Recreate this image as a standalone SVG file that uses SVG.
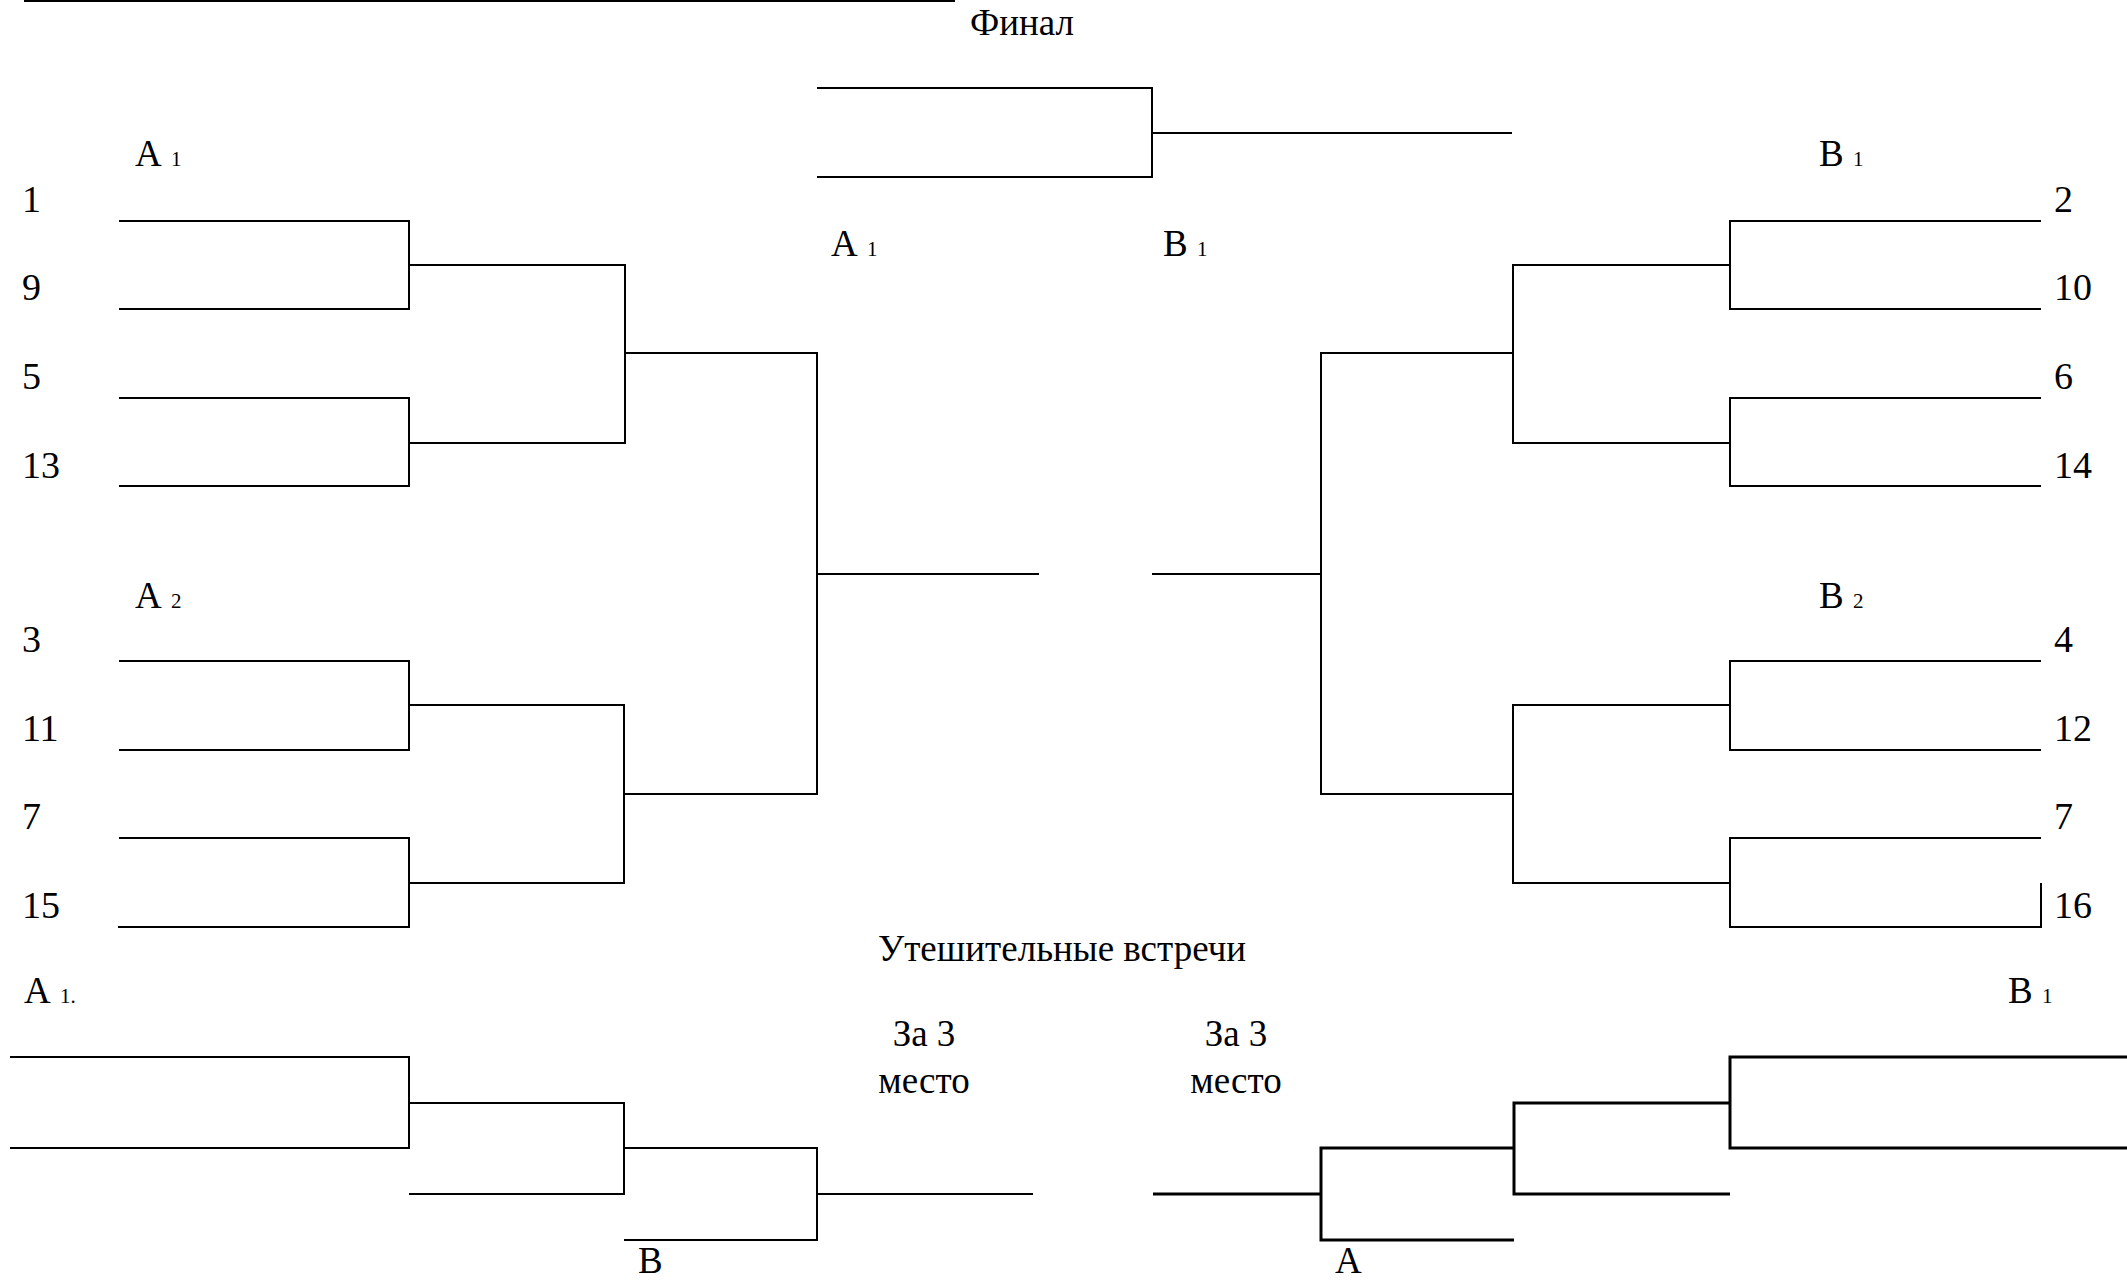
<svg xmlns="http://www.w3.org/2000/svg" width="2127" height="1280" viewBox="0 0 2127 1280">
<style>
  text { font-family: "Liberation Serif", "Times New Roman", serif; font-size: 37px; fill: #000; }
  .num { font-size: 38px; }
  .sub { font-size: 21px; }
  .mid { text-anchor: middle; }
  .ln { fill: none; stroke: #000; stroke-width: 2; }
  .lnb { fill: none; stroke: #000; stroke-width: 3; }
</style>
<rect x="0" y="0" width="2127" height="1280" fill="#fff"/>
<g id="connectors">
  <path class="ln" d="M24 1 H955"/>
  <path class="ln" d="M817 88 H1152 V177 H817"/>
  <path class="ln" d="M1152 133 H1512"/>
  <path class="ln" d="M119 221 H409 V309 H119"/>
  <path class="ln" d="M119 398 H409 V486 H119"/>
  <path class="ln" d="M409 265 H625 V443 H409"/>
  <path class="ln" d="M119 661 H409 V750 H119"/>
  <path class="ln" d="M119 838 H409 V927 H118"/>
  <path class="ln" d="M409 705 H624 V883 H409"/>
  <path class="ln" d="M625 353 H817 V794 H624"/>
  <path class="ln" d="M817 574 H1039"/>
  <path class="ln" d="M2041 221 H1730 V309 H2041"/>
  <path class="ln" d="M2041 398 H1730 V486 H2041"/>
  <path class="ln" d="M1730 265 H1513 V443 H1730"/>
  <path class="ln" d="M2041 661 H1730 V750 H2041"/>
  <path class="ln" d="M2041 838 H1730 V927 H2041 V883"/>
  <path class="ln" d="M1730 705 H1513 V883 H1730"/>
  <path class="ln" d="M1513 353 H1321 V794 H1513"/>
  <path class="ln" d="M1321 574 H1152"/>
  <path class="ln" d="M10 1057 H409 V1148 H10"/>
  <path class="ln" d="M409 1103 H624 V1194 H409"/>
  <path class="ln" d="M624 1148 H817 V1240 H624"/>
  <path class="ln" d="M817 1194 H1033"/>
  <path class="lnb" d="M1153 1194 H1321"/>
  <path class="lnb" d="M1514 1148 H1321 V1240 H1514"/>
  <path class="lnb" d="M1730 1103 H1514 V1194 H1730"/>
  <path class="lnb" d="M2127 1057 H1730 V1148 H2127"/>
</g>
<g id="title-final"><text x="970" y="35">Финал</text></g>
<g id="final-a1"><text x="831" y="256">А <tspan class="sub">1</tspan></text></g>
<g id="final-b1"><text x="1163" y="256">В <tspan class="sub">1</tspan></text></g>
<g id="group-a1"><text x="135" y="166">А <tspan class="sub">1</tspan></text></g>
<g id="group-a2"><text x="135" y="608">А <tspan class="sub">2</tspan></text></g>
<g id="group-b1"><text x="1819" y="166">В <tspan class="sub">1</tspan></text></g>
<g id="group-b2"><text x="1819" y="608">В <tspan class="sub">2</tspan></text></g>
<g id="seeds-left">
  <text class="num" x="22" y="212">1</text>
  <text class="num" x="22" y="300">9</text>
  <text class="num" x="22" y="389">5</text>
  <text class="num" x="22" y="478">13</text>
  <text class="num" x="22" y="652">3</text>
  <text class="num" x="22" y="741">11</text>
  <text class="num" x="22" y="829">7</text>
  <text class="num" x="22" y="918">15</text>
</g>
<g id="seeds-right">
  <text class="num" x="2054" y="212">2</text>
  <text class="num" x="2054" y="300">10</text>
  <text class="num" x="2054" y="389">6</text>
  <text class="num" x="2054" y="478">14</text>
  <text class="num" x="2054" y="652">4</text>
  <text class="num" x="2054" y="741">12</text>
  <text class="num" x="2054" y="829">7</text>
  <text class="num" x="2054" y="918">16</text>
</g>
<g id="title-consolation"><text x="878" y="961">Утешительные встречи</text></g>
<g id="third-left"><text class="mid" x="924" y="1046">За 3</text><text class="mid" x="924" y="1093">место</text></g>
<g id="third-right"><text class="mid" x="1236" y="1046">За 3</text><text class="mid" x="1236" y="1093">место</text></g>
<g id="cons-a1"><text x="24" y="1003">А <tspan class="sub">1.</tspan></text></g>
<g id="cons-b1"><text x="2008" y="1003">В <tspan class="sub">1</tspan></text></g>
<g id="cons-b"><text x="638" y="1273">В</text></g>
<g id="cons-a"><text x="1335" y="1273">А</text></g>
</svg>
